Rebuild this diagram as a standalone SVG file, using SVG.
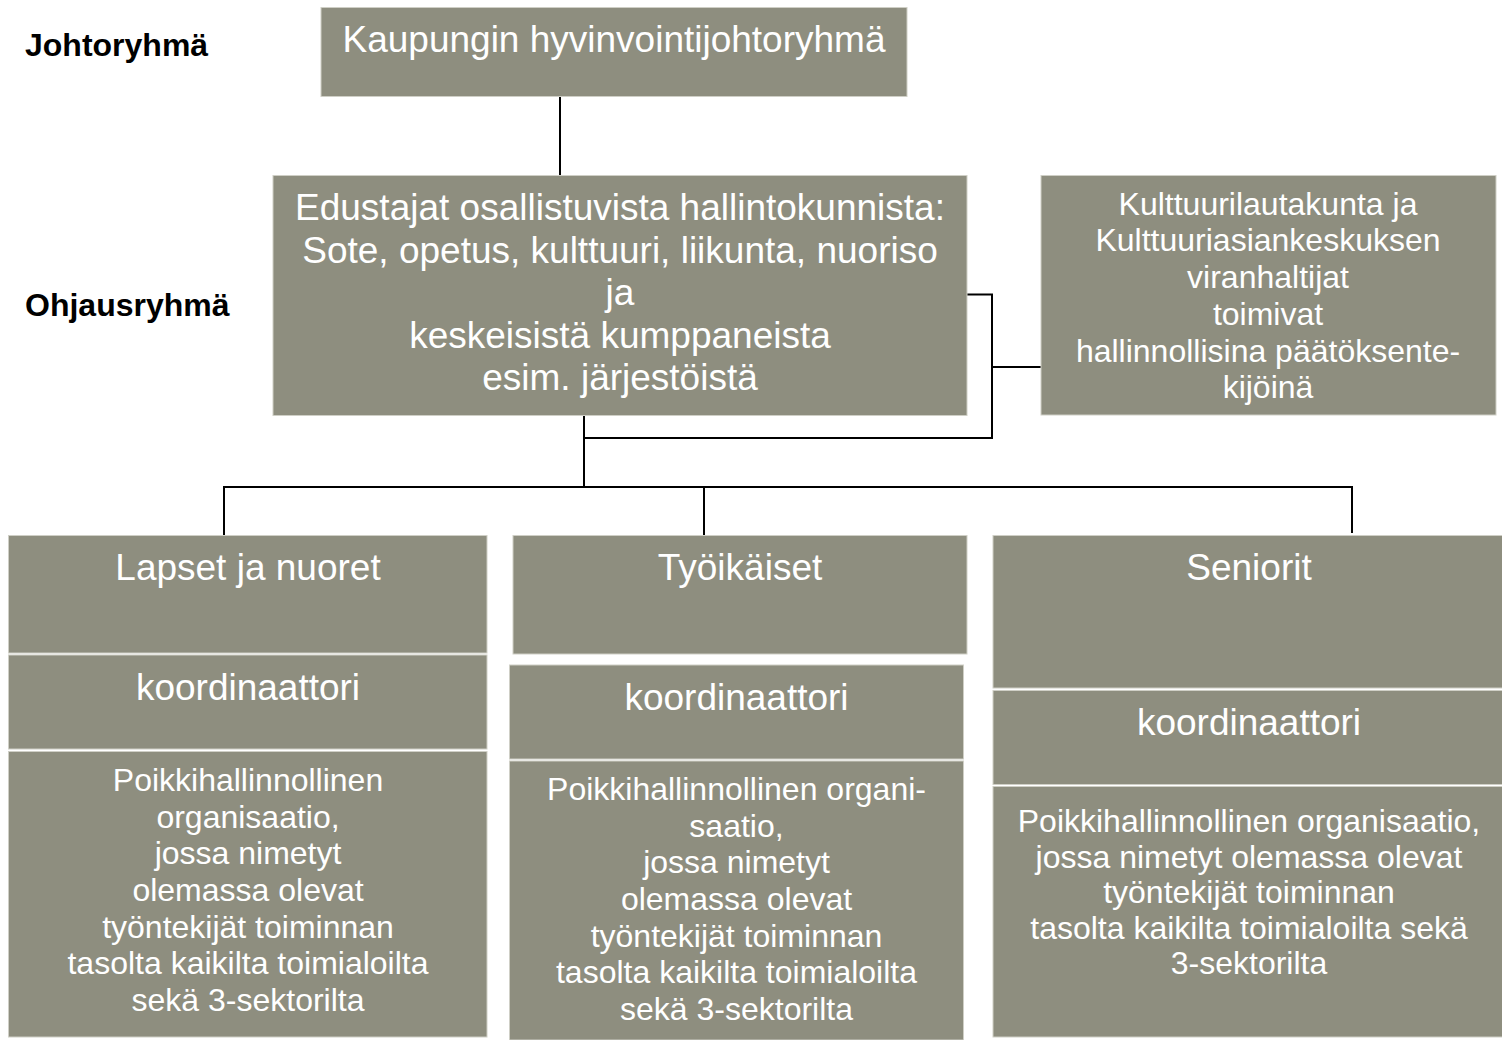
<svg xmlns="http://www.w3.org/2000/svg" width="1502" height="1040" viewBox="0 0 1502 1040">
<style>
.box{fill:#8e8e7f;stroke:#cfcfc6;stroke-width:1}
.t{font-family:"Liberation Sans",Arial,sans-serif;fill:#ffffff;text-anchor:middle}
.l{font-size:37px}
.s{font-size:32px}
.lab{font-family:"Liberation Sans",Arial,sans-serif;font-weight:bold;font-size:32px;fill:#000000}
.c{fill:none;stroke:#000000;stroke-width:2}
</style>
<rect width="1502" height="1040" fill="#ffffff"/>
<g id="labels">
<text class="lab" x="25" y="56">Johtoryhmä</text>
<text class="lab" x="25" y="316">Ohjausryhmä</text>
</g>
<g id="connectors">
<path class="c" d="M560 96.5V175"/>
<path class="c" d="M967 294.5H992V438H584"/>
<path class="c" d="M992 367H1041"/>
<path class="c" d="M584 415V487"/>
<path class="c" d="M224 535V487H1352V533"/>
<path class="c" d="M704 487V535"/>
</g>
<g id="johtoryhma">
<rect class="box" x="321" y="7.5" width="586" height="89"/>
<text class="t l" x="614" y="52">Kaupungin hyvinvointijohtoryhmä</text>
</g>
<g id="ohjausryhma">
<rect class="box" x="273" y="175.5" width="694" height="240"/>
<text class="t l" x="620" y="220">Edustajat osallistuvista hallintokunnista:</text>
<text class="t l" x="620" y="262.5">Sote, opetus, kulttuuri, liikunta, nuoriso</text>
<text class="t l" x="620" y="305">ja</text>
<text class="t l" x="620" y="347.5">keskeisistä kumppaneista</text>
<text class="t l" x="620" y="390">esim. järjestöistä</text>
</g>
<g id="kulttuurilautakunta">
<rect class="box" x="1041" y="175.5" width="455" height="239.5"/>
<text class="t s" x="1268" y="214.5">Kulttuurilautakunta ja</text>
<text class="t s" x="1268" y="251">Kulttuuriasiankeskuksen</text>
<text class="t s" x="1268" y="288">viranhaltijat</text>
<text class="t s" x="1268" y="325">toimivat</text>
<text class="t s" x="1268" y="361.5">hallinnollisina päätöksente-</text>
<text class="t s" x="1268" y="398">kijöinä</text>
</g>
<g id="lapset">
<rect class="box" x="8.5" y="535.5" width="478.5" height="117.5"/>
<text class="t l" x="248" y="580">Lapset ja nuoret</text>
<rect class="box" x="8.5" y="655" width="478.5" height="94"/>
<text class="t l" x="248" y="700">koordinaattori</text>
<rect class="box" x="8.5" y="751.5" width="478.5" height="285.5"/>
<text class="t s" x="248" y="791">Poikkihallinnollinen</text>
<text class="t s" x="248" y="827.7">organisaatio,</text>
<text class="t s" x="248" y="864.3">jossa nimetyt</text>
<text class="t s" x="248" y="901">olemassa olevat</text>
<text class="t s" x="248" y="937.7">työntekijät toiminnan</text>
<text class="t s" x="248" y="974.3">tasolta kaikilta toimialoilta</text>
<text class="t s" x="248" y="1011">sekä 3-sektorilta</text>
</g>
<g id="tyoikaiset">
<rect class="box" x="513" y="535.5" width="454" height="118.5"/>
<text class="t l" x="740" y="580">Työikäiset</text>
<rect class="box" x="509.5" y="665" width="454" height="94"/>
<text class="t l" x="736.5" y="710">koordinaattori</text>
<rect class="box" x="509.5" y="761" width="454" height="279"/>
<text class="t s" x="736.5" y="800">Poikkihallinnollinen organi-</text>
<text class="t s" x="736.5" y="836.7">saatio,</text>
<text class="t s" x="736.5" y="873.3">jossa nimetyt</text>
<text class="t s" x="736.5" y="910">olemassa olevat</text>
<text class="t s" x="736.5" y="946.7">työntekijät toiminnan</text>
<text class="t s" x="736.5" y="983.3">tasolta kaikilta toimialoilta</text>
<text class="t s" x="736.5" y="1020">sekä 3-sektorilta</text>
</g>
<g id="seniorit">
<rect class="box" x="993" y="535.5" width="512" height="152.5"/>
<text class="t l" x="1249" y="580">Seniorit</text>
<rect class="box" x="993" y="690.5" width="512" height="94"/>
<text class="t l" x="1249" y="735">koordinaattori</text>
<rect class="box" x="993" y="786.5" width="512" height="250.5"/>
<text class="t s" x="1249" y="831.5">Poikkihallinnollinen organisaatio,</text>
<text class="t s" x="1249" y="867.5">jossa nimetyt olemassa olevat</text>
<text class="t s" x="1249" y="903">työntekijät toiminnan</text>
<text class="t s" x="1249" y="938.5">tasolta kaikilta toimialoilta sekä</text>
<text class="t s" x="1249" y="974">3-sektorilta</text>
</g>
</svg>
